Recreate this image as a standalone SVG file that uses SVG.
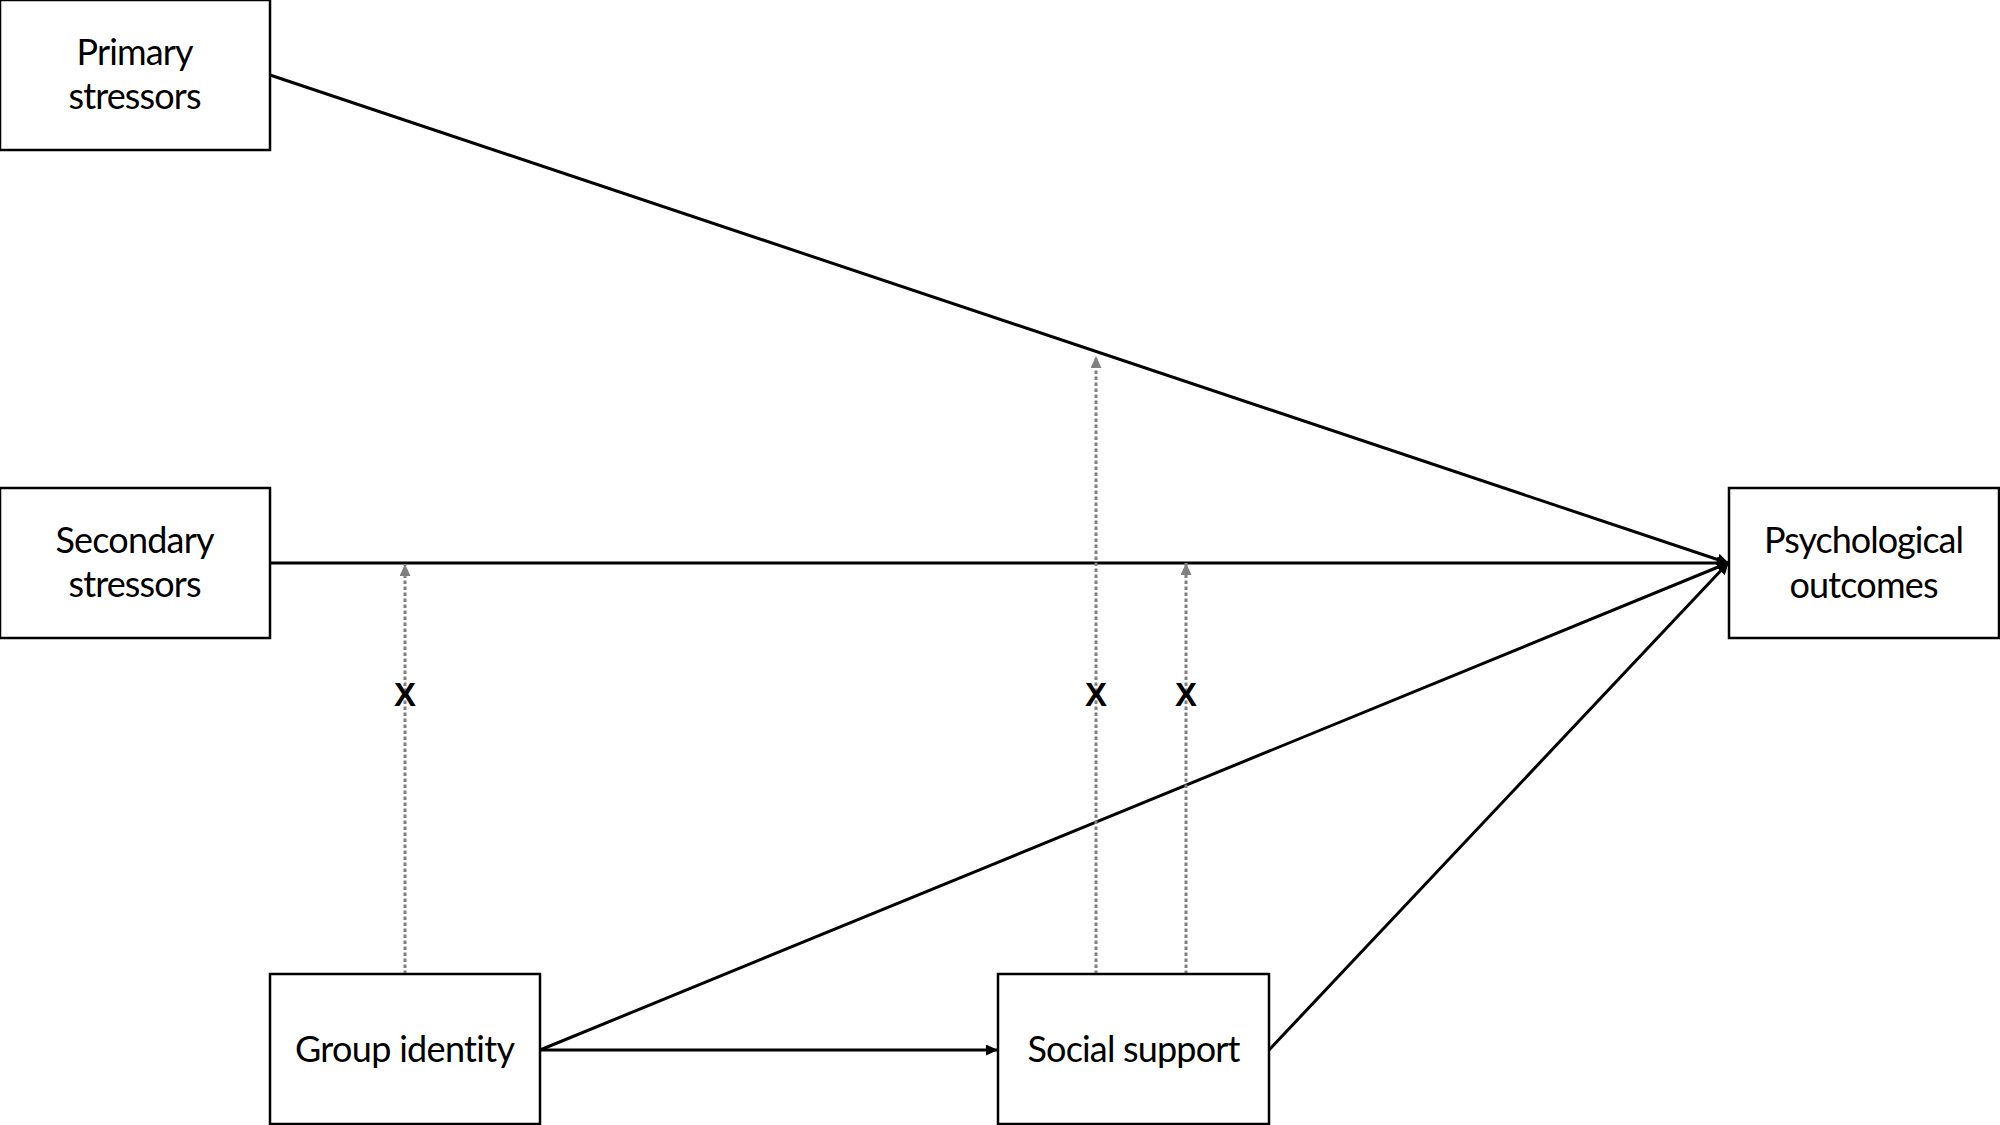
<svg xmlns="http://www.w3.org/2000/svg" width="2000" height="1125" viewBox="0 0 2000 1125">
<style>
.box{fill:#fff;stroke:#000;stroke-width:2.5}
.lbl{font-family:Lato,"Open Sans","Liberation Sans",sans-serif;font-size:36px;fill:#000;text-anchor:middle;font-variant-ligatures:none}
.edge{stroke:#000;stroke-width:3;fill:none}
.mod{stroke:#808080;stroke-width:3;stroke-dasharray:3.5 2.5;fill:none}
.x{font-family:"Liberation Sans",Arial,sans-serif;font-weight:bold;font-size:33px;fill:#000;text-anchor:middle}
</style>
<defs>
<marker id="ah" viewBox="0 0 12 12" refX="11" refY="6" markerWidth="12" markerHeight="12" markerUnits="userSpaceOnUse" orient="auto"><path d="M0,0 L12,6 L0,12 z" fill="#000"/></marker>
<marker id="ahs" viewBox="0 0 12 11" refX="11" refY="5.5" markerWidth="12" markerHeight="11" markerUnits="userSpaceOnUse" orient="auto"><path d="M0,0 L12,5.5 L0,11 z" fill="#000"/></marker>
<marker id="ahg" viewBox="0 0 12 11" refX="12" refY="5.5" markerWidth="12" markerHeight="11" markerUnits="userSpaceOnUse" orient="auto"><path d="M0,0 L12,5.5 L0,11 z" fill="#808080"/></marker>
</defs>
<rect width="2000" height="1125" fill="#fff"/>
<g id="connectors">
<line class="edge" x1="270" y1="75" x2="1728" y2="563" marker-end="url(#ah)"/>
<line class="edge" x1="270" y1="563" x2="1728" y2="563" marker-end="url(#ah)"/>
<line class="edge" x1="540" y1="1050" x2="1728" y2="563" marker-end="url(#ah)"/>
<line class="edge" x1="1269" y1="1050" x2="1728" y2="563" marker-end="url(#ah)"/>
<line class="edge" x1="540" y1="1050" x2="997" y2="1050" marker-end="url(#ahs)"/>
<line class="mod" x1="405" y1="974" x2="405" y2="564" marker-end="url(#ahg)"/>
<line class="mod" x1="1096" y1="974" x2="1096" y2="356" marker-end="url(#ahg)"/>
<line class="mod" x1="1186" y1="974" x2="1186" y2="563" marker-end="url(#ahg)"/>
<text class="x" x="405" y="706">X</text>
<text class="x" x="1096" y="706">X</text>
<text class="x" x="1186" y="706">X</text>
</g>
<g id="primary">
<rect class="box" x="0" y="0" width="270" height="150"/>
<text class="lbl" x="135" y="65" textLength="117">Primary</text>
<text class="lbl" x="135" y="109" textLength="133">stressors</text>
</g>
<g id="secondary">
<rect class="box" x="0" y="488" width="270" height="150"/>
<text class="lbl" x="135" y="553" textLength="159">Secondary</text>
<text class="lbl" x="135" y="597" textLength="133">stressors</text>
</g>
<g id="psych">
<rect class="box" x="1729" y="488" width="270" height="150"/>
<text class="lbl" x="1864" y="553" textLength="200">Psychological</text>
<text class="lbl" x="1864" y="598" textLength="149">outcomes</text>
</g>
<g id="group">
<rect class="box" x="270" y="974" width="270" height="150"/>
<text class="lbl" x="405" y="1062" textLength="220">Group identity</text>
</g>
<g id="social">
<rect class="box" x="998" y="974" width="271" height="150"/>
<text class="lbl" x="1134" y="1062" textLength="213">Social support</text>
</g>
</svg>
